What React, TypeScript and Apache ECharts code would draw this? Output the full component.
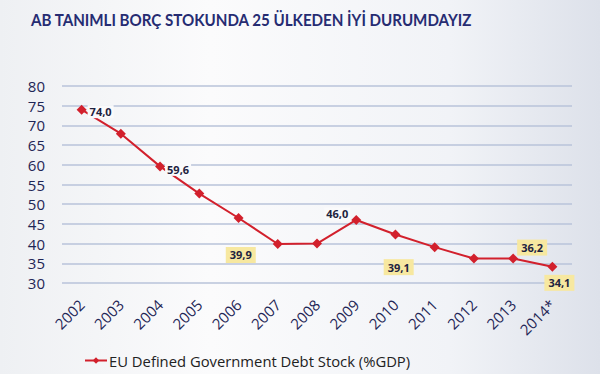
import React, { useEffect, useRef } from "react";
import * as echarts from "echarts";

const title = "AB TANIMLI BORÇ STOKUNDA 25 ÜLKEDEN İYİ DURUMDAYIZ";
const seriesName = "EU Defined Government Debt Stock (%GDP)";
const years = ["2002", "2003", "2004", "2005", "2006", "2007", "2008", "2009", "2010", "2011", "2012", "2013", "2014*"];
const debt = [74.0, 67.9, 59.6, 52.7, 46.5, 39.9, 40.0, 46.0, 42.3, 39.1, 36.2, 36.2, 34.1];
const labelled = [0, 2, 5, 7, 9, 11, 12];
const highlighted = [5, 9, 11, 12];

const labelOffsets: Record<number, [number, number]> = {
  0: [19, 2],
  2: [18, 3],
  5: [-37, 11],
  7: [-19, -6],
  9: [-36, 20],
  11: [19, -11],
  12: [7, 16],
};

export default function App() {
  const ref = useRef<HTMLDivElement>(null);
  useEffect(() => {
    if (!ref.current) return;
    const chart = echarts.init(ref.current, undefined, { renderer: "svg" });
    const navy = "#1f2656";
    const data = debt.map((v, i) => {
      if (!labelled.includes(i)) return { value: v };
      const hi = highlighted.includes(i);
      return {
        value: v,
        label: {
          show: true,
          position: "inside",
          offset: labelOffsets[i],
          formatter: (p: any) => Number(p.value).toFixed(1).replace(".", ","),
          color: "#1e2340",
          fontWeight: "bold",
          fontSize: 11,
          fontFamily: "Open Sans",
          backgroundColor: hi ? "#f7e8a0" : "rgba(250,250,251,1)",
          padding: hi ? [3, 4, 2, 4] : [1, 2, 1, 2],
        },
      };
    });
    chart.setOption({
      animation: false,
      backgroundColor: new echarts.graphic.LinearGradient(0, 0, 1, 0, [
        { offset: 0, color: "#eef0f3" },
        { offset: 0.35, color: "#fbfbfc" },
        { offset: 0.75, color: "#f1f3f7" },
        { offset: 1, color: "#dde1ea" },
      ]),
      graphic: [
        {
          type: "text",
          x: 31,
          y: 19,
          scaleX: 0.89,
          style: {
            text: title,
            fill: "#262c72",
            font: "bold 17px Lato",
            verticalAlign: "middle",
            align: "left",
          },
        },
      ],
      grid: { left: 62, right: 28, top: 86, bottom: 91, containLabel: false },
      xAxis: {
        type: "category",
        data: years,
        boundaryGap: true,
        axisLine: { show: false },
        axisTick: { show: false },
        axisLabel: {
          rotate: 45,
          margin: 19,
          color: navy,
          fontSize: 15,
          fontFamily: "Open Sans",
          interval: 0,
        },
      },
      yAxis: {
        type: "value",
        min: 30,
        max: 80,
        interval: 5,
        axisLine: { show: false },
        axisTick: { show: false },
        axisLabel: { color: navy, fontSize: 15, margin: 17, fontFamily: "Open Sans" },
        splitLine: { lineStyle: { color: "#b9c3da", width: 1.5 } },
      },
      legend: {
        top: 353,
        left: 84,
        itemWidth: 22,
        itemHeight: 8,
        itemGap: 4,
        padding: 0,
        textStyle: { color: "#222222", fontSize: 14.8, fontFamily: "Open Sans", padding: [0, 0, 0, -3] },
        data: [seriesName],
      },
      series: [
        {
          name: seriesName,
          type: "line",
          data,
          symbol: "diamond",
          symbolSize: 10,
          lineStyle: { color: "#d2202c", width: 2 },
          itemStyle: { color: "#d2202c" },
          z: 2,
        },
      ],
    });
    return () => chart.dispose();
  }, []);
  return <div ref={ref} style={{ position: "fixed", left: 0, top: 0, width: 600, height: 374 }} />;
}
